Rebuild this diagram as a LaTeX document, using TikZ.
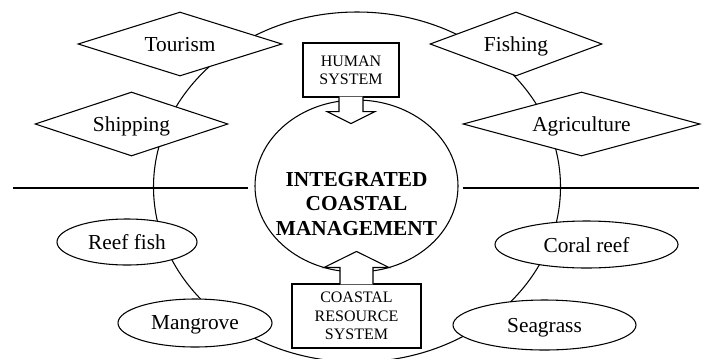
\documentclass[tikz,border=0pt]{standalone}
\usepackage{fontspec}
\setmainfont{Liberation Serif}
\usetikzlibrary{shapes.geometric}

\begin{document}
\begin{tikzpicture}[
		x=0.75pt, y=-0.75pt,
		line width=0.8pt,
		activity/.style={diamond, draw, fill=white, inner sep=0pt, aspect=3, text depth=0pt, font=\fontsize{16}{19}\selectfont},
		resource/.style={ellipse, draw, fill=white, inner sep=0pt, text depth=0pt, font=\fontsize{16}{19}\selectfont},
		sysbox/.style={draw, fill=white, align=center, inner sep=0pt, font=\fontsize{12}{13.7}\selectfont},
		sysarrow/.style={draw, fill=white, line join=miter}
	]
		\useasboundingbox (0,0) rectangle (706,358);
		% rings and divide
		\draw (357,187) ellipse [x radius=203.5, y radius=175];
		\draw (356.5,186) ellipse [x radius=101.5, y radius=86];
		\draw (13,188) -- (248,188);
		\draw (463,188) -- (699,188);
		% human activities
		\node[activity, minimum width=153pt, minimum height=48pt] (tourism) at (180,44) {Tourism};
		\node[activity, minimum width=144.75pt, minimum height=48pt] (shipping) at (131.5,124) {Shipping};
		\node[activity, minimum width=129pt, minimum height=48pt] (fishing) at (516,44) {Fishing};
		\node[activity, minimum width=177.75pt, minimum height=48pt] (agri) at (581.5,124) {Agriculture};
		% coastal resources
		\node[resource, minimum width=105pt, minimum height=34.5pt] (reef) at (127,242) {Reef fish};
		\node[resource, minimum width=115.5pt, minimum height=36pt] (mangrove) at (195,323) {Mangrove};
		\node[resource, minimum width=137.25pt, minimum height=35.25pt] (coral) at (586.5,244.5) {Coral reef};
		\node[resource, minimum width=137.25pt, minimum height=37.5pt] (seagrass) at (544.5,325) {Seagrass};
		% centre
		\node[align=center, font=\bfseries\fontsize{16}{18.4}\selectfont] (icm) at (356.5,204) {INTEGRATED\\COASTAL\\MANAGEMENT};
		\node[sysbox, minimum width=72pt, minimum height=40.5pt] (human) at (351,70) {HUMAN\\SYSTEM};
		\node[sysbox, minimum width=96.75pt, minimum height=48pt] (coast) at (356.5,316) {COASTAL\\RESOURCE\\SYSTEM};
		\draw[sysarrow] (human.south) ++(-12,-1) -- ++(0,15) -- ++(-12,0) -- ++(24,12) -- ++(24,-12) -- ++(-12,0) -- ++(0,-15);
		\draw[sysarrow] (coast.north) ++(-16.5,1) -- ++(0,-17) -- ++(-16,0) -- ++(32.5,-16) -- ++(32.5,16) -- ++(-16,0) -- ++(0,17);
	\end{tikzpicture}
\end{document}
